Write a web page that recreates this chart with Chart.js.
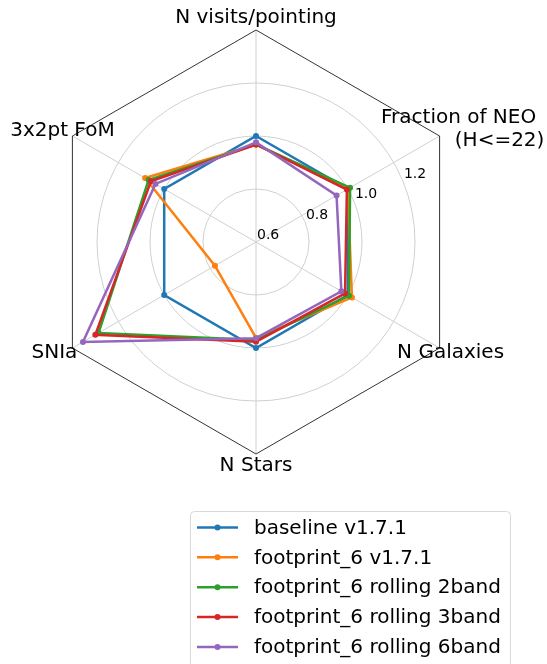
<!DOCTYPE html>
<html><head><meta charset="utf-8">
<script src="https://cdn.jsdelivr.net/npm/chart.js@4.4.0/dist/chart.umd.min.js"></script>
<style>html,body{margin:0;padding:0;background:#fff;} #wrap{width:547px;height:664px;position:relative;overflow:hidden;}</style>
</head><body><div id="wrap"><canvas id="c" width="547" height="664"></canvas></div>
<script>
// ---- data ----
const categories = ["N visits/pointing", ["Fraction of NEO", "(H<=22)"], "N Galaxies", "N Stars", "SNIa", "3x2pt FoM"];
const seriesNames = ["baseline v1.7.1", "footprint_6 v1.7.1", "footprint_6 rolling 2band", "footprint_6 rolling 3band", "footprint_6 rolling 6band"];
const baselineV171   = [1.000, 1.000, 1.000, 1.000, 1.000, 1.000];
const footprint6V171 = [0.968, 1.000, 1.018, 0.962, 0.779, 1.083];
const rolling2band   = [0.968, 1.010, 1.005, 0.970, 1.286, 1.068];
const rolling3band   = [0.968, 0.996, 0.988, 0.976, 1.300, 1.058];
const rolling6band   = [0.976, 0.951, 0.972, 0.963, 1.354, 1.038];
const tickValues = [0.6, 0.8, 1.0, 1.2];
const tickLabels = ["0.6", "0.8", "1.0", "1.2"];
const seriesColors = ["#1f77b4", "#ff7f0e", "#2ca02c", "#d62728", "#9467bd"];

const seriesValues = [baselineV171, footprint6V171, rolling2band, rolling3band, rolling6band];
const FONT = '"DejaVu Sans", sans-serif';

// label placement relative to each outer vertex (per line: dx, dy of line centre)
const labelOffsets = [
  [[0, -12]],
  [[19, -18], [60, 5]],
  [[11, 5]],
  [[0, 12]],
  [[-18, 5]],
  [[-10, -5]]
];

const deco = {
  id: 'deco',
  beforeDatasetsDraw(chart) {
    const s = chart.scales.r, c = chart.ctx;
    const n = chart.data.labels.length;
    c.save();
    c.beginPath();
    for (let i = 0; i < n; i++) {
      const p = s.getPointPosition(i, s.drawingArea);
      if (i) c.lineTo(p.x, p.y); else c.moveTo(p.x, p.y);
    }
    c.closePath();
    c.strokeStyle = '#333';
    c.lineWidth = 1;
    c.stroke();
    c.font = '14px ' + FONT;
    c.fillStyle = '#000';
    c.textAlign = 'left';
    c.textBaseline = 'alphabetic';
    const a = 22.5 * Math.PI / 180;
    tickValues.forEach((v, k) => {
      const r = s.getDistanceFromCenterForValue(v);
      c.fillText(tickLabels[k], s.xCenter + r * Math.cos(a) + 1, s.yCenter - r * Math.sin(a) - 3);
    });
    c.restore();
  },
  afterDraw(chart) {
    const s = chart.scales.r, c = chart.ctx;
    c.save();
    c.font = '20px ' + FONT;
    c.fillStyle = '#000';
    c.textAlign = 'center';
    c.textBaseline = 'middle';
    chart.data.labels.forEach((lab, i) => {
      const p = s.getPointPosition(i, s.drawingArea);
      const lines = Array.isArray(lab) ? lab : [lab];
      lines.forEach((t, k) => {
        const o = labelOffsets[i][k] || labelOffsets[i][0];
        c.fillText(t, p.x + o[0], p.y + o[1]);
      });
    });
    // legend
    const lx = 190.5, ly = 511.5, lw = 320, lh = 170;
    c.beginPath();
    c.roundRect(lx, ly, lw, lh, 4);
    c.fillStyle = 'rgba(255,255,255,0.8)';
    c.fill();
    c.strokeStyle = '#d8d8d8';
    c.lineWidth = 1;
    c.stroke();
    c.textAlign = 'left';
    chart.data.datasets.forEach((ds, k) => {
      const y = 527.5 + k * 29.85;
      c.strokeStyle = ds.borderColor;
      c.lineWidth = 2.5;
      c.beginPath();
      c.moveTo(197, y); c.lineTo(238, y);
      c.stroke();
      c.fillStyle = ds.borderColor;
      c.beginPath();
      c.arc(217.5, y, 3, 0, Math.PI * 2);
      c.fill();
      c.fillStyle = '#000';
      c.fillText(ds.label, 254, y + 1);
    });
    c.restore();
  }
};

new Chart(document.getElementById('c'), {
  type: 'radar',
  data: {
    labels: categories,
    datasets: seriesNames.map((name, k) => ({
      label: name,
      data: seriesValues[k],
      borderColor: seriesColors[k],
      backgroundColor: seriesColors[k],
      pointBackgroundColor: seriesColors[k],
      pointBorderColor: seriesColors[k],
      order: seriesNames.length - k,
      fill: false
    }))
  },
  options: {
    responsive: false,
    animation: false,
    layout: { padding: { left: 44, top: 30, right: 79, bottom: 210 } },
    plugins: { legend: { display: false }, tooltip: { enabled: false } },
    elements: {
      line: { borderWidth: 2.5, tension: 0 },
      point: { radius: 3, borderWidth: 0, hoverRadius: 3 }
    },
    scales: {
      r: {
        min: 0.6, max: 1.4,
        ticks: { display: false, stepSize: 0.2 },
        pointLabels: { display: false },
        grid: {
          circular: true,
          color: (ctx) => (ctx.tick && ctx.tick.value > 1.39) ? 'rgba(0,0,0,0)' : '#d0d0d0',
          lineWidth: 1
        },
        angleLines: { color: '#d0d0d0', lineWidth: 1 }
      }
    }
  },
  plugins: [deco]
});
</script>
</body></html>
